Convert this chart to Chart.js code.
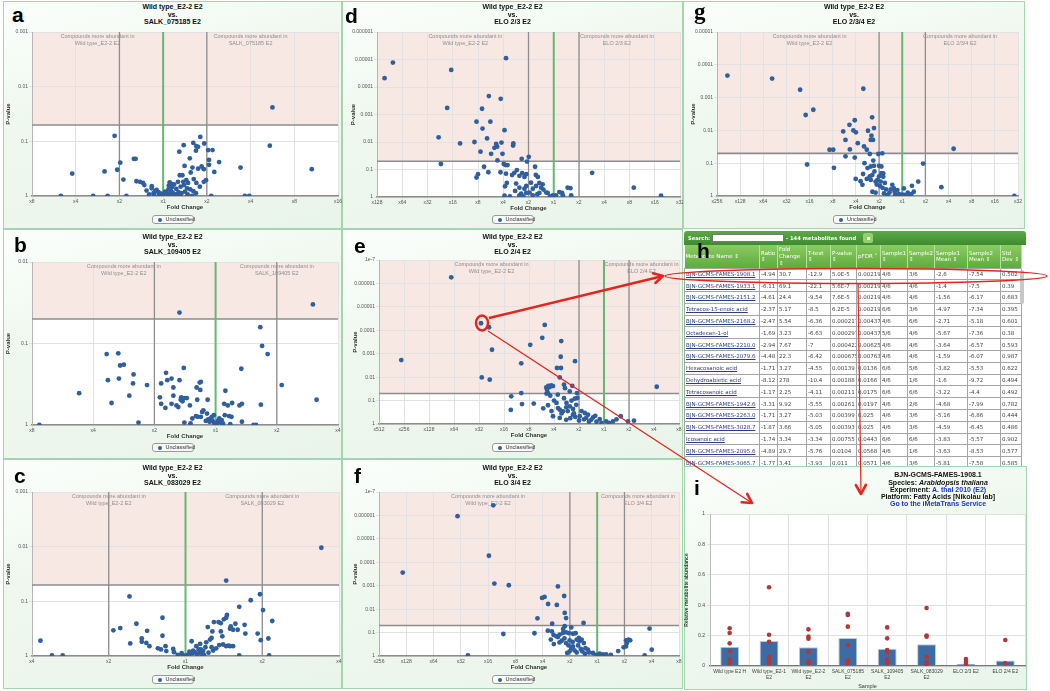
<!DOCTYPE html>
<html>
<head>
<meta charset="utf-8">
<script src="https://cdn.jsdelivr.net/npm/chart.js@4.4.0/dist/chart.umd.min.js"></script>
<style>
html,body{margin:0;padding:0;}
body{width:1050px;height:691px;background:#fff;position:relative;overflow:hidden;font-family:Arial,"Liberation Sans",sans-serif;}
.panel{position:absolute;box-sizing:border-box;border:1.5px solid #a3d6ad;background:linear-gradient(165deg,#fcfefc 0%,#eff8ef 40%,#e9f4ea 100%);}
.letter{position:absolute;font:bold 21px Arial,sans-serif;color:#000;line-height:21px;}
.ttl{position:absolute;text-align:center;font:bold 7px Arial,sans-serif;line-height:7.5px;color:#111;}
.leg{position:absolute;box-sizing:border-box;width:42px;height:9px;border:1px solid #9a9a9a;border-radius:3px;background:#fafafa;font:5.5px Arial,sans-serif;color:#333;line-height:7px;padding-left:13px;}
.leg:before{content:"";position:absolute;left:5px;top:2px;width:4px;height:4px;border-radius:50%;background:#2f60a0;}
canvas{position:absolute;}
#tbl{position:absolute;left:684px;top:231px;width:342px;height:236px;overflow:hidden;border-radius:3px 3px 0 0;font-family:"DejaVu Sans",Verdana,sans-serif;}
#srch{height:14px;background:linear-gradient(#5da948,#3d8a30);color:#fff;font:bold 5.2px "DejaVu Sans",sans-serif;position:relative;}
#srch span{position:absolute;top:4px;white-space:nowrap;}
#srch .box{position:absolute;left:28px;top:3px;width:72px;height:8px;background:#fff;border:0.5px solid #777;box-sizing:border-box;}
#srch .btn{position:absolute;left:179px;top:2px;width:10px;height:10px;border-radius:2px;background:#92d16e;}
#srch .btn:after{content:"";position:absolute;left:4px;top:4px;width:3px;height:3px;background:#fff;}
table{border-collapse:collapse;table-layout:fixed;width:337px;}
th{background:linear-gradient(#8acb60,#5fab3e);color:#fff;font:normal 5.5px "DejaVu Sans",sans-serif;text-align:left;vertical-align:middle;height:23px;padding:0 1px;border-right:1px solid #b6e29c;line-height:6.6px;box-sizing:border-box;}
td{border:1px solid #a5a5a5;font:5.5px "DejaVu Sans",sans-serif;color:#444;height:10.8px;padding:0 1px;white-space:nowrap;overflow:hidden;background:#fff;}
td.nm{color:#2b3c80;text-decoration:underline;}
#scroll{position:absolute;left:1020px;top:270px;width:4px;height:34px;background:#c8c8c8;border-radius:2px;}
#ihead{position:absolute;left:838px;top:471.4px;width:200px;text-align:center;font:bold 7px Arial,sans-serif;line-height:7.2px;color:#111;}
#ihead .lnk{color:#1a35e0;}
#overlay{position:absolute;left:0;top:0;}
</style>
</head>
<body>
<div id="root"></div>
<div id="tbl">
  <div id="srch"><span style="left:4px">Search:</span><div class="box"></div><span style="left:102px">- 144 metabolites found</span><div class="btn"></div></div>
  <table id="mt"></table>
</div>
<div id="scroll"></div>
<div class="letter" style="left:697px;top:240px">h</div>
<div class="panel" style="left:684px;top:466px;width:343px;height:224px"></div>
<canvas id="barI" width="342" height="185" style="left:684px;top:505px"></canvas>
<div class="letter" style="left:694px;top:477px">i</div>
<div id="ihead">BJN-GCMS-FAMES-1908.1<br>Species: <i>Arabidopsis thaliana</i><br>Experiment: <span class="lnk">A. thal 2010 (E2)</span><br>Platform: Fatty Acids [Nikolau lab]<br><span class="lnk">Go to the iMetaTrans Service</span></div>
<svg id="overlay" width="1050" height="691"></svg>
<script>
// volcano points: [log2 fold change (negative = higher in wild type), -log10 p-value]
var volcanoA = [[2.50,1.62],[-1.11,1.10],[2.44,0.92],[0.85,1.08],[0.47,0.93],[0.69,0.97],[0.76,0.91],[0.75,0.83],[0.80,0.90],[0.94,0.96],[0.37,0.81],[1.03,0.84],[1.13,0.84],[0.61,0.69],[1.05,0.66],[1.05,0.57],[1.28,0.62],[0.49,0.55],[0.67,0.52],[0.80,0.50],[0.88,0.54],[0.93,0.49],[1.17,0.44],[1.77,0.52],[3.40,0.49],[-2.08,0.41],[-1.34,0.45],[-1.05,0.48],[-0.98,0.61],[-0.67,0.68],[-0.63,0.68],[-0.91,0.30],[-0.61,0.27],[-0.53,0.26],[-0.46,0.24],[-0.43,0.20],[-0.26,0.18],[-0.26,0.14],[-0.15,0.11],[-0.11,0.07],[-0.08,0.05],[0.38,0.38],[0.44,0.38],[0.34,0.26],[0.46,0.26],[0.53,0.29],[0.57,0.24],[0.63,0.43],[0.70,0.31],[0.76,0.24],[0.84,0.17],[0.93,0.26],[0.98,0.29],[0.40,0.17],[0.48,0.20],[0.55,0.14],[0.62,0.12],[0.69,0.09],[0.30,0.13],[0.25,0.21],[0.20,0.16],[0.18,0.09],[0.12,0.12],[0.08,0.06],[0.05,0.03],[0.02,0.01],[0.10,0.02],[0.15,0.04],[0.22,0.06],[0.28,0.03],[0.35,0.07],[0.42,0.05],[0.04,0.08],[-0.03,0.02],[-0.05,0.04],[0.16,0.01],[0.26,0.00],[0.33,0.02],[0.50,0.08],[0.56,0.03],[0.75,0.05],[-2.34,0.0],[-1.60,0.0],[-1.27,0.0],[-0.84,0.0],[1.87,0.0],[1.97,0.0],[1.10,0.0],[0.40,0.0],[0.66,0.0],[-0.20,0.0],[-0.32,0.03],[-0.38,0.10],[-0.10,0.0],[-0.18,0.09],[-0.22,0.05],[0.15,0.25],[0.18,0.22],[0.13,0.19]];
var volcanoB = [[1.59,1.48],[-0.59,1.38],[0.73,1.20],[0.76,0.97],[0.85,0.87],[-1.78,0.87],[-1.59,0.88],[-1.56,0.73],[-1.50,0.74],[-0.52,0.70],[0.42,0.69],[-1.34,0.62],[-0.81,0.64],[-1.76,0.55],[-1.58,0.57],[-0.79,0.55],[-0.72,0.57],[-0.59,0.55],[-0.24,0.53],[-0.26,0.52],[-1.35,0.51],[-1.12,0.49],[-0.89,0.51],[1.08,0.49],[-0.69,0.46],[-0.31,0.46],[-0.25,0.43],[0.16,0.42],[-2.23,0.39],[-1.41,0.36],[-0.91,0.34],[-0.69,0.36],[-0.56,0.34],[-0.51,0.33],[-0.47,0.33],[1.65,0.31],[-0.13,0.31],[-0.30,0.31],[-0.57,0.31],[-0.54,0.29],[-1.70,0.27],[-0.72,0.26],[-0.64,0.24],[-0.61,0.22],[-0.42,0.24],[-0.89,0.26],[-0.82,0.21],[0.14,0.26],[0.20,0.24],[0.27,0.27],[0.39,0.24],[0.43,0.26],[0.74,0.25],[-0.20,0.18],[-0.22,0.16],[-0.24,0.10],[-0.38,0.08],[-0.32,0.11],[-0.29,0.10],[-0.14,0.14],[-0.03,0.12],[0.15,0.12],[0.22,0.11],[0.26,0.10],[-1.26,0.03],[-2.88,0.0],[-0.51,0.03],[-0.41,0.02],[0.24,0.01],[0.43,0.04],[0.62,0.0],[0.66,0.0],[-0.08,0.08],[-0.05,0.05],[-0.03,0.03],[-0.01,0.01],[0.0,0.0],[0.02,0.02],[0.04,0.05],[0.06,0.08],[-0.10,0.04],[0.08,0.03],[-0.12,0.07],[0.10,0.06],[-0.16,0.05],[-0.06,0.10],[0.12,0.02]];
var volcanoC = [[1.77,1.98],[0.53,1.38],[-0.73,1.09],[0.97,1.13],[0.85,1.02],[0.70,0.90],[1.01,0.84],[0.54,0.75],[1.13,0.64],[-0.30,0.70],[-0.64,0.59],[-0.94,0.47],[-0.85,0.51],[-0.50,0.46],[-0.30,0.37],[-0.57,0.32],[-0.57,0.26],[-0.51,0.24],[-0.47,0.18],[-0.72,0.23],[-1.89,0.28],[-1.74,0.01],[-1.60,0.01],[-0.36,0.14],[-0.32,0.12],[-0.26,0.18],[-0.25,0.09],[-0.16,0.13],[-0.15,0.07],[-0.05,0.05],[0.43,0.62],[0.46,0.60],[0.50,0.67],[0.53,0.70],[0.58,0.50],[0.59,0.54],[0.62,0.48],[0.65,0.59],[0.68,0.48],[0.77,0.57],[0.29,0.53],[0.35,0.45],[0.37,0.62],[0.46,0.45],[0.48,0.36],[0.49,0.21],[0.53,0.18],[0.56,0.19],[0.58,0.18],[0.62,0.18],[0.08,0.27],[0.14,0.18],[0.19,0.22],[0.20,0.12],[0.23,0.09],[0.26,0.16],[0.27,0.25],[0.32,0.30],[0.34,0.33],[0.78,0.41],[0.94,0.41],[0.98,0.29],[1.08,0.32],[1.09,0.01],[0.70,0.01],[0.0,0.0],[0.03,0.02],[0.06,0.04],[0.09,0.05],[0.12,0.07],[-0.03,0.01],[0.15,0.03],[0.18,0.06],[0.21,0.04],[0.10,0.10],[0.05,0.08],[0.17,0.12],[-0.10,0.02],[0.24,0.02],[0.30,0.06],[0.36,0.10],[0.40,0.14],[0.44,0.20],[0.34,0.16]];
var volcanoD = [[-6.37,4.89],[-6.70,4.32],[-1.89,5.05],[-4.06,4.62],[-2.57,3.67],[-2.10,3.57],[-4.22,3.24],[-2.84,3.21],[-3.06,2.74],[-2.51,2.74],[-2.82,2.49],[-1.95,2.43],[-4.56,2.17],[-2.64,2.13],[-3.71,1.95],[-3.14,2.00],[-2.28,1.93],[-2.24,1.83],[-2.35,1.79],[-2.07,1.98],[-1.60,1.95],[-1.61,1.87],[-2.90,1.65],[-2.48,1.57],[-2.03,1.57],[-2.23,1.33],[-1.27,1.39],[-0.99,1.46],[-1.06,1.29],[-4.47,1.20],[-2.76,1.10],[-1.98,1.20],[-1.90,1.16],[-1.83,1.16],[-0.74,1.10],[-1.46,0.98],[1.52,0.88],[-3.00,0.83],[-3.06,0.71],[-2.59,0.90],[-2.11,0.90],[-1.89,0.85],[-1.65,0.80],[-1.56,0.88],[-1.25,0.87],[-1.36,0.77],[-1.16,0.73],[-1.09,0.83],[-0.71,0.80],[-0.63,0.73],[-0.57,0.51],[-0.44,0.46],[-1.93,0.39],[-1.86,0.51],[-1.49,0.49],[-1.36,0.34],[-1.16,0.30],[-1.09,0.40],[-0.90,0.52],[-0.83,0.30],[-0.70,0.40],[-0.50,0.34],[-0.41,0.27],[-0.30,0.16],[-0.96,0.16],[-1.29,0.12],[-1.53,0.22],[0.22,0.18],[0.33,0.15],[0.55,0.34],[0.66,0.32],[3.17,0.34],[4.25,0.05],[-1.95,0.05],[-1.74,0.02],[-1.36,0.06],[-1.09,0.15],[-0.83,0.06],[-0.57,0.15],[-0.24,0.15],[-0.04,0.06],[0.09,0.06],[0.36,0.06],[0.69,0.06],[-0.15,0.02],[0.04,0.02],[-0.65,0.10],[-1.20,0.02]];
var volcanoE = [[-6.11,6.26],[-4.92,4.30],[-4.60,4.13],[-2.37,4.23],[-2.95,3.38],[-2.47,3.68],[-1.71,3.54],[-4.48,3.17],[-8.11,2.73],[-3.31,2.59],[-1.73,2.87],[-1.16,2.68],[-1.88,2.39],[-1.72,2.39],[-4.89,1.99],[-4.57,1.89],[-1.77,1.99],[2.11,1.59],[-2.23,1.63],[-2.17,1.58],[-2.11,1.65],[-2.04,1.62],[-2.28,1.46],[-2.24,1.32],[-2.15,1.21],[-2.31,1.56],[-1.60,1.68],[-1.56,1.53],[-1.37,1.39],[-1.27,1.63],[-3.31,1.32],[-3.71,1.18],[-3.28,0.85],[-2.81,0.87],[-2.43,0.67],[-2.24,0.80],[-3.73,0.60],[-1.08,1.32],[-1.07,1.11],[-1.17,1.08],[-1.11,0.82],[-1.84,0.68],[-1.77,0.61],[-1.64,0.54],[-1.51,0.71],[-1.37,0.75],[-1.24,0.64],[-2.04,0.33],[-1.77,0.26],[-1.51,0.18],[-1.24,0.40],[-0.97,0.33],[-0.71,0.26],[-0.44,0.28],[-0.17,0.21],[0.09,0.11],[0.36,0.11],[0.67,0.33],[1.20,0.14],[0.96,0.11],[-0.77,0.47],[-0.64,0.40],[-0.51,0.18],[-1.90,0.90],[-2.00,1.00],[-1.60,1.10],[-1.50,0.90],[-1.30,1.00],[-1.20,0.45],[-0.90,0.55],[-0.80,0.20],[-0.60,0.10],[-0.30,0.10],[-0.10,0.05],[0.20,0.05],[-1.00,0.15],[-1.35,0.25],[-1.70,0.45],[-2.10,0.55],[-1.45,0.55],[-1.15,0.30],[-0.35,0.35],[0.50,0.20],[-2.30,1.30],[-1.85,1.25]];
var volcanoF = [[-3.81,6.43],[-5.12,5.97],[-3.97,4.28],[-7.13,3.56],[-3.77,3.09],[-3.24,3.02],[-1.44,2.97],[-2.02,2.48],[-1.93,2.52],[-1.21,2.56],[-1.80,2.22],[-1.48,2.18],[-1.19,1.84],[-1.14,1.62],[-2.19,1.61],[-1.65,1.38],[-1.19,1.27],[-0.95,1.22],[-0.50,1.41],[1.92,1.17],[-3.44,0.94],[-2.30,0.97],[-1.81,1.08],[-1.66,1.05],[-1.60,0.90],[-1.50,0.84],[-1.44,0.81],[-1.38,0.91],[-1.26,0.98],[-1.14,1.01],[-1.04,0.98],[-0.89,0.95],[-0.79,0.97],[-1.59,0.51],[-1.38,0.58],[-1.14,0.55],[-1.01,0.67],[-0.95,0.34],[-0.89,0.41],[-0.75,0.70],[-0.67,0.77],[-0.65,0.63],[-0.57,0.70],[-0.49,0.55],[-0.43,0.33],[-1.10,0.13],[-1.01,0.20],[-0.83,0.24],[-0.34,0.27],[-0.16,0.13],[0.09,0.10],[0.21,0.07],[0.33,0.07],[1.06,0.67],[1.15,0.70],[1.21,0.67],[1.09,0.55],[1.06,0.41],[0.97,0.37],[0.77,0.21],[2.00,0.27],[1.74,0.03],[-4.74,0.03],[-0.70,0.45],[-0.60,0.30],[-0.55,0.20],[-0.30,0.15],[-0.05,0.05],[0.0,0.02],[0.10,0.03],[-1.30,0.65],[-1.20,0.75],[-0.90,0.60],[-1.05,0.45],[-0.75,0.15],[-0.45,0.10],[-1.25,1.15],[-1.70,0.70],[0.50,0.05]];
var volcanoG = [[-7.55,3.67],[-5.62,3.58],[-4.41,3.24],[-1.68,3.27],[-3.84,2.63],[-4.17,2.47],[-2.05,2.31],[-1.30,2.40],[-2.28,2.17],[-1.22,2.07],[-2.55,1.97],[-2.11,2.00],[-2.00,1.94],[-1.48,1.99],[-1.33,1.84],[-1.36,1.71],[-1.26,1.71],[-2.45,1.71],[-1.92,1.61],[-1.65,1.51],[-1.53,1.41],[-3.14,1.41],[-2.98,1.41],[-2.26,1.42],[-1.40,1.28],[-1.03,1.28],[-0.86,1.30],[-2.45,1.21],[-2.05,1.17],[2.22,1.44],[-4.11,0.96],[-2.95,0.86],[0.90,0.99],[-1.63,1.00],[-1.50,0.85],[-1.36,0.90],[-1.25,1.08],[-1.22,0.92],[-1.00,0.92],[-0.90,0.90],[-2.01,0.52],[-1.69,0.67],[-1.72,0.34],[-1.53,0.52],[-1.36,0.49],[-1.29,0.64],[-1.15,0.44],[-1.07,0.49],[-0.93,0.44],[-0.82,0.59],[-0.82,0.69],[0.69,0.44],[0.42,0.31],[0.07,0.23],[0.24,0.10],[0.50,0.13],[0.39,0.06],[1.69,0.27],[-0.43,0.34],[-0.36,0.23],[-0.33,0.13],[-0.21,0.18],[-1.29,0.13],[-1.15,0.10],[-0.79,0.08],[-0.64,0.03],[-0.14,0.06],[0.0,0.04],[4.84,0.0],[-1.10,0.35],[-0.95,0.30],[-0.85,0.25],[-0.75,0.40],[-0.70,0.20],[-1.00,0.60],[-0.90,0.70],[-1.20,0.75],[-0.50,0.20],[-0.30,0.05],[0.10,0.03],[0.30,0.02],[-0.55,0.10],[-1.40,0.60],[-1.80,0.45]];

// bar chart (panel i)
var sampleNames = [['Wild type E2 H'], ['Wild type_E2-1', 'E2'], ['Wild type_E2-2', 'E2'], ['SALK_075185', 'E2'], ['SALK_109405', 'E2'], ['SALK_083029', 'E2'], ['ELO 2/3 E2'], ['ELO 2/4 E2']];
var sampleMeans = [0.127, 0.164, 0.123, 0.184, 0.114, 0.143, 0.015, 0.037];
var sampleReplicates = [
    [0.248, 0.217, 0.149, 0.099, 0.044, 0.018],
    [0.518, 0.206, 0.160, 0.061, 0.031, 0.018],
    [0.241, 0.193, 0.180, 0.096, 0.031, 0.018],
    [0.344, 0.336, 0.259, 0.138, 0.039, 0.018],
    [0.254, 0.182, 0.105, 0.090, 0.044, 0.018],
    [0.382, 0.200, 0.193, 0.061, 0.024, 0.013],
    [0.046, 0.028, 0.013],
    [0.171, 0.018]
];

// table (panel h)
var tableHeader = ['Metabolite Name \u21D5', 'Ratio \u21D5', 'Fold Change \u21D5', 'T-test \u21D5', 'P-value \u21D5', 'pFDR \u02C4', 'Sample1 \u21D5', 'Sample2 \u21D5', 'Sample1 Mean \u21D5', 'Sample2 Mean \u21D5', 'Std Dev \u21D5'];
var tableWidths = [75, 18, 29, 24, 26, 24, 27, 27, 33, 33, 21];
var tableRows = [
    ['BJN-GCMS-FAMES-1908.1', '-4.94', '30.7', '-12.9', '5.0E-5', '0.00219', '4/6', '3/6', '-2.6', '-7.54', '0.502'],
    ['BJN-GCMS-FAMES-1933.1', '-6.11', '69.1', '-22.1', '5.6E-7', '0.00219', '4/6', '4/6', '-1.4', '-7.5', '0.39'],
    ['BJN-GCMS-FAMES-2151.2', '-4.61', '24.4', '-9.54', '7.6E-5', '0.00219', '4/6', '4/6', '-1.56', '-6.17', '0.683'],
    ['Tetracos-15-enoic acid', '-2.37', '5.17', '-8.5', '6.2E-5', '0.00219', '6/6', '3/6', '-4.97', '-7.34', '0.395'],
    ['BJN-GCMS-FAMES-2168.2', '-2.47', '5.54', '-6.36', '0.000217', '0.00437', '4/6', '6/6', '-2.71', '-5.18', '0.601'],
    ['Octadecan-1-ol', '-1.69', '3.23', '-6.63', '0.000297', '0.00437', '5/6', '4/6', '-5.67', '-7.36', '0.38'],
    ['BJN-GCMS-FAMES-2210.0', '-2.94', '7.67', '-7', '0.000422', '0.00625', '4/6', '4/6', '-3.64', '-6.57', '0.593'],
    ['BJN-GCMS-FAMES-2079.6', '-4.48', '22.3', '-6.42', '0.000675', '0.00763', '4/6', '4/6', '-1.59', '-6.07', '0.987'],
    ['Hexacosanoic acid', '-1.71', '3.27', '-4.55', '0.00139', '0.0136', '6/6', '5/6', '-3.82', '-5.53', '0.622'],
    ['Dehydroabietic acid', '-8.12', '278', '-10.4', '0.00188', '0.0166', '4/6', '1/6', '-1.6', '-9.72', '0.494'],
    ['Tetracosanoic acid', '-1.17', '2.25', '-4.11', '0.00211', '0.0175', '6/6', '6/6', '-3.22', '-4.4', '0.492'],
    ['BJN-GCMS-FAMES-1942.6', '-3.31', '9.92', '-5.55', '0.00261', '0.0197', '4/6', '2/6', '-4.68', '-7.99', '0.782'],
    ['BJN-GCMS-FAMES-2263.0', '-1.71', '3.27', '-5.03', '0.00399', '0.025', '4/6', '3/6', '-5.16', '-6.86', '0.444'],
    ['BJN-GCMS-FAMES-3028.7', '-1.87', '3.66', '-5.05', '0.00393', '0.025', '4/6', '3/6', '-4.59', '-6.45', '0.486'],
    ['Icosanoic acid', '-1.74', '3.34', '-3.34', '0.00755', '0.0443', '6/6', '6/6', '-3.83', '-5.57', '0.902'],
    ['BJN-GCMS-FAMES-2095.6', '-4.89', '29.7', '-5.76', '0.0104', '0.0568', '4/6', '1/6', '-3.63', '-8.53', '0.577'],
    ['BJN-GCMS-FAMES-3065.7', '-1.77', '3.41', '-3.93', '0.011', '0.0571', '4/6', '3/6', '-5.81', '-7.58', '0.585']
];

var baseName = 'Wild type_E2-2 E2';
var panelDefs = [
    {key: 'a', letter: [12, 4], box: [3, 1, 339, 228], plot: [32, 32, 338, 196], xr: [-3, 4], ymax: 3, vs: 'SALK_075185 E2', pts: volcanoA, titleTop: 3.3, legTop: 214.5},
    {key: 'b', letter: [14, 234], box: [3, 229, 339, 230], plot: [32, 262, 338, 425], xr: [-3, 2], ymax: 2, vs: 'SALK_109405 E2', pts: volcanoB, titleTop: 233.3, legTop: 443},
    {key: 'c', letter: [14, 465], box: [3, 459, 339, 230], plot: [32, 492, 339, 656], xr: [-2, 2], ymax: 3, vs: 'SALK_083029 E2', pts: volcanoC, titleTop: 464.3, legTop: 674.5},
    {key: 'd', letter: [345, 5], box: [342, 1, 341, 228], plot: [377, 32, 680, 197], xr: [-7, 5], ymax: 6, vs: 'ELO 2/3 E2', pts: volcanoD, titleTop: 3.3, legTop: 214.5},
    {key: 'e', letter: [354, 235], box: [342, 229, 341, 230], plot: [379, 260, 679, 424], xr: [-9, 3], ymax: 7, vs: 'ELO 2/4 E2', pts: volcanoE, titleTop: 233.3, legTop: 443},
    {key: 'f', letter: [354, 465], box: [342, 459, 341, 230], plot: [379, 492, 679, 656], xr: [-8, 3], ymax: 7, vs: 'ELO 3/4 E2', pts: volcanoF, titleTop: 464.3, legTop: 674.5},
    {key: 'g', letter: [694, 1], box: [683, 1, 342, 228], plot: [717, 32, 1018, 196], xr: [-8, 5], ymax: 5, vs: 'ELO 2/3/4 E2', pts: volcanoG, titleTop: 3.3, legTop: 214.5, serif: true}
];

// pink significance band, fold-change guides and region captions
var volcanoDecor = {
    id: 'volcanoDecor',
    beforeDraw: function(chart, args, o) {
        var ctx = chart.ctx, ca = chart.chartArea;
        var yc = chart.scales.y.getPixelForValue(o.cut);
        ctx.save();
        ctx.fillStyle = '#ffffff';
        ctx.fillRect(ca.left, ca.top, ca.width, ca.height);
        ctx.fillStyle = '#f8e8e4';
        ctx.fillRect(ca.left, ca.top, ca.width, yc - ca.top);
        ctx.restore();
    },
    beforeDatasetsDraw: function(chart, args, o) {
        var ctx = chart.ctx, ca = chart.chartArea, x = chart.scales.x, y = chart.scales.y;
        var yc = y.getPixelForValue(o.cut);
        ctx.save();
        ctx.strokeStyle = '#8d8d8d';
        ctx.lineWidth = 1.3;
        [-1, 1].forEach(function(v) {
            var px = x.getPixelForValue(v);
            ctx.beginPath(); ctx.moveTo(px, ca.top); ctx.lineTo(px, ca.bottom); ctx.stroke();
        });
        ctx.lineWidth = 1.6;
        ctx.beginPath(); ctx.moveTo(ca.left, yc); ctx.lineTo(ca.right, yc); ctx.stroke();
        ctx.strokeStyle = '#63b872';
        ctx.lineWidth = 2;
        var p0 = x.getPixelForValue(0);
        ctx.beginPath(); ctx.moveTo(p0, ca.top); ctx.lineTo(p0, ca.bottom); ctx.stroke();
        ctx.fillStyle = '#8e8e8e';
        ctx.font = '5.5px Arial';
        ctx.textAlign = 'center';
        ctx.textBaseline = 'middle';
        var lx = x.getPixelForValue(x.min / 2), rx = x.getPixelForValue(x.max / 2);
        ctx.fillText('Compounds more abundant in', lx, ca.top + 4);
        ctx.fillText(o.left, lx, ca.top + 11);
        ctx.fillText('Compounds more abundant in', rx, ca.top + 4);
        ctx.fillText(o.right, rx, ca.top + 11);
        ctx.restore();
    }
};

var root = document.getElementById('root');
function addDiv(cls, style, html) {
    var d = document.createElement('div');
    d.className = cls;
    d.setAttribute('style', style);
    if (html) d.innerHTML = html;
    root.appendChild(d);
    return d;
}

panelDefs.forEach(function(p) {
    var b = p.box, pl = p.plot;
    addDiv('panel', 'left:' + b[0] + 'px;top:' + b[1] + 'px;width:' + b[2] + 'px;height:' + b[3] + 'px');
    var cv = document.createElement('canvas');
    var w = (pl[2] - pl[0]) + 36, h = (pl[3] - pl[1]) + 28;
    cv.width = w; cv.height = h;
    cv.style.left = (pl[0] - 30) + 'px';
    cv.style.top = (pl[1] - 6) + 'px';
    root.appendChild(cv);
    addDiv('letter', 'left:' + p.letter[0] + 'px;top:' + p.letter[1] + 'px' + (p.serif ? ';font-family:"Liberation Serif","DejaVu Serif",serif;font-size:23px' : ''), p.key);
    addDiv('ttl', 'left:' + b[0] + 'px;top:' + p.titleTop + 'px;width:' + b[2] + 'px', baseName + '<br>vs.<br>' + p.vs);
    addDiv('leg', 'left:' + (b[0] + b[2] / 2 - 21) + 'px;top:' + p.legTop + 'px', 'Unclassified');

    new Chart(cv, {
        type: 'scatter',
        data: {
            datasets: [{
                label: 'Unclassified',
                data: p.pts.map(function(q) { return {x: q[0], y: q[1]}; }),
                pointRadius: 2.4,
                pointHoverRadius: 2.4,
                backgroundColor: '#2f5f9f',
                borderWidth: 0
            }]
        },
        options: {
            responsive: false,
            animation: false,
            events: [],
            layout: {autoPadding: false, padding: {left: 3, top: 6, right: 6, bottom: 7}},
            plugins: {
                legend: {display: false},
                tooltip: {enabled: false},
                volcanoDecor: {cut: 1.3, left: baseName, right: p.vs}
            },
            scales: {
                x: {
                    type: 'linear', min: p.xr[0], max: p.xr[1],
                    afterFit: function(s) { s.height = 15; },
                    ticks: {stepSize: 1, autoSkip: false, maxRotation: 0, padding: 0, color: '#555', font: {size: 5},
                        callback: function(v) { return 'x' + Math.pow(2, Math.abs(v)); }},
                    grid: {color: '#e2e2e2', tickLength: 3},
                    border: {color: '#8c8c8c', width: 1.5},
                    title: {display: true, text: 'Fold Change', color: '#333', font: {size: 6, weight: 'bold'}, padding: {top: 0, bottom: 0}}
                },
                y: {
                    min: 0, max: p.ymax,
                    afterFit: function(s) { s.width = 27; },
                    ticks: {stepSize: 1, padding: 1, color: '#555', font: {size: 5},
                        callback: function(v) { return String(Number('1e-' + v)); }},
                    grid: {color: '#e2e2e2', tickLength: 3},
                    border: {color: '#b5b5b5'},
                    title: {display: true, text: 'P-value', color: '#333', font: {size: 6, weight: 'bold'}, padding: {top: 0, bottom: 2}}
                }
            }
        },
        plugins: [volcanoDecor]
    });
});

// metabolite table
var mt = document.getElementById('mt');
var html = '<colgroup>' + tableWidths.map(function(w) { return '<col style="width:' + w + 'px">'; }).join('') + '</colgroup>';
html += '<tr>' + tableHeader.map(function(t) { return '<th>' + t + '</th>'; }).join('') + '</tr>';
tableRows.forEach(function(r) {
    html += '<tr>' + r.map(function(c, i) { return '<td' + (i === 0 ? ' class="nm"' : '') + '>' + c + '</td>'; }).join('') + '</tr>';
});
mt.innerHTML = html;

// bar chart with replicate dots
var whitePlot = {
    id: 'whitePlot',
    beforeDraw: function(chart) {
        var ca = chart.chartArea, ctx = chart.ctx;
        ctx.save();
        ctx.fillStyle = '#ffffff';
        ctx.fillRect(ca.left, ca.top, ca.width, ca.height);
        ctx.restore();
    }
};
var repPoints = [];
sampleReplicates.forEach(function(arr, i) {
    arr.forEach(function(v) { repPoints.push({x: i, y: v}); });
});
new Chart(document.getElementById('barI'), {
    type: 'bar',
    data: {
        labels: sampleNames,
        datasets: [{
            type: 'scatter',
            data: repPoints,
            xAxisID: 'xr',
            pointRadius: 2.3,
            backgroundColor: '#b43636',
            borderWidth: 0,
            order: 1
        }, {
            data: sampleMeans,
            backgroundColor: '#3d6ca5',
            borderColor: '#b9cbe0',
            borderWidth: 1,
            grouped: false,
            barPercentage: 0.48,
            categoryPercentage: 1,
            order: 2
        }]
    },
    options: {
        responsive: false,
        animation: false,
        events: [],
        layout: {autoPadding: false, padding: {left: 0, top: 9, right: 1, bottom: 0}},
        plugins: {legend: {display: false}, tooltip: {enabled: false}},
        scales: {
            x: {
                afterFit: function(s) { s.height = 24; },
                ticks: {autoSkip: false, maxRotation: 0, padding: 0, color: '#444', font: {size: 5, lineHeight: 1.1}},
                grid: {color: '#e0e0e0', tickLength: 3},
                border: {color: '#777', width: 1.2},
                title: {display: true, text: 'Sample', color: '#333', font: {size: 5.5}, padding: {top: 0, bottom: 0}}
            },
            xr: {type: 'linear', min: -0.5, max: 7.5, offset: false, display: false},
            y: {
                min: 0, max: 1,
                afterFit: function(s) { s.width = 26; },
                ticks: {stepSize: 0.2, padding: 2, color: '#444', font: {size: 5},
                    callback: function(v) { return String(Math.round(v * 10) / 10); }},
                grid: {color: '#e0e0e0', tickLength: 3},
                border: {color: '#bbb'},
                title: {display: true, text: 'Relative metabolite abundance', color: '#333', font: {size: 5, weight: 'bold'}, padding: 0}
            }
        }
    },
    plugins: [whitePlot]
});

// red call-out marks
var svg = document.getElementById('overlay');
var ns = 'http://www.w3.org/2000/svg';
function mk(tag, attrs) {
    var e = document.createElementNS(ns, tag);
    for (var k in attrs) e.setAttribute(k, attrs[k]);
    e.setAttribute('fill', 'none');
    e.setAttribute('stroke', '#e8231a');
    svg.appendChild(e);
    return e;
}
function arrow(x1, y1, x2, y2, w, hw) {
    mk('line', {x1: x1, y1: y1, x2: x2, y2: y2, 'stroke-width': w});
    var dx = x2 - x1, dy = y2 - y1, L = Math.sqrt(dx * dx + dy * dy);
    var ux = dx / L, uy = dy / L;
    var bx = x2 - ux * 9, by = y2 - uy * 9;
    mk('path', {d: 'M' + (bx - uy * 5) + ' ' + (by + ux * 5) + ' L' + x2 + ' ' + y2 + ' L' + (bx + uy * 5) + ' ' + (by - ux * 5),
        'stroke-width': hw, 'stroke-linejoin': 'round', 'stroke-linecap': 'round'});
}
mk('ellipse', {cx: 482, cy: 323, rx: 6, ry: 7.5, 'stroke-width': 2.4});
mk('ellipse', {cx: 856, cy: 276, rx: 191, ry: 7.5, 'stroke-width': 1.5});
arrow(489, 318, 663, 276, 2.4, 2.6);
arrow(488, 331, 752, 503, 1.2, 2.6);
arrow(858, 284, 861, 494, 1.2, 2.6);
</script>
</body>
</html>
